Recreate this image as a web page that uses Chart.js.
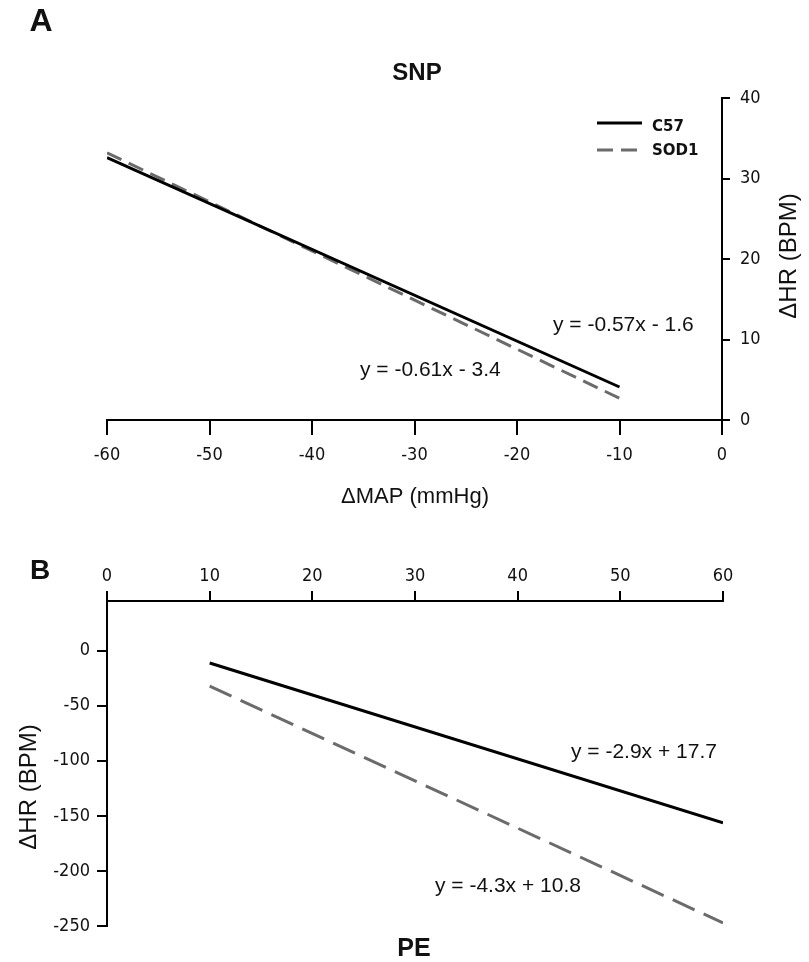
<!DOCTYPE html>
<html>
<head>
<meta charset="utf-8">
<script src="https://cdn.jsdelivr.net/npm/chart.js@4.4.0/dist/chart.umd.min.js"></script>
<style>
  body { margin: 0; background: #fff; }
  canvas { display: block; }
  #wrapA { position: absolute; left: 0; top: 0; }
  #wrapB { position: absolute; left: 0; top: 530px; }
</style>
</head>
<body>
<div id="wrapA"><canvas id="chartA" width="809" height="530"></canvas></div>
<div id="wrapB"><canvas id="chartB" width="809" height="432"></canvas></div>
<script>
// panel A - SNP
const snpX = [-60, -10];
const snpC57 = [32.6, 4.1];
const snpSOD1 = [33.2, 2.7];
const snpXTicks = [-60, -50, -40, -30, -20, -10, 0];
const snpYTicks = [0, 10, 20, 30, 40];
const snpEquations = ["y = -0.57x - 1.6", "y = -0.61x - 3.4"];

// panel B - PE
const peX = [10, 60];
const peC57 = [-11.3, -156.3];
const peSOD1 = [-32.2, -247.2];
const peXTicks = [0, 10, 20, 30, 40, 50, 60];
const peYTicks = [0, -50, -100, -150, -200, -250];
const peEquations = ["y = -2.9x + 17.7", "y = -4.3x + 10.8"];

const seriesNames = ["C57", "SOD1"];

const tickFont = { family: "'DejaVu Sans Condensed', 'DejaVu Sans', sans-serif", size: 18 };
const arial = "'Liberation Sans', Arial, sans-serif";
const grey = "#6b6b6b";

function toPoints(xs, ys) {
  return xs.map((x, i) => ({ x: x, y: ys[i] }));
}

function lineSet(label, xs, ys, color, dash) {
  return {
    label: label,
    data: toPoints(xs, ys),
    borderColor: color,
    borderWidth: 3,
    borderDash: dash,
    pointRadius: 0,
    showLine: true,
    fill: false,
    tension: 0,
  };
}

function axis(position, min, max, tickList, tickLength, pad, size) {
  return {
    type: "linear",
    position: position,
    min: min,
    max: max,
    afterBuildTicks: (scale) => { scale.ticks = tickList.map(v => ({ value: v })); },
    afterFit: (scale) => {
      if (scale.isHorizontal()) scale.height = size;
      else scale.width = size;
    },
    grid: { drawOnChartArea: false, color: "#000", lineWidth: 2, tickLength: tickLength },
    border: { color: "#000", width: 2 },
    ticks: { color: "#111", font: tickFont, padding: pad, maxRotation: 0, autoSkip: false },
  };
}

function write(ctx, str, x, y, font, align, baseline, rot) {
  ctx.save();
  ctx.translate(x, y);
  if (rot) ctx.rotate(rot);
  ctx.font = font;
  ctx.textAlign = align;
  ctx.textBaseline = baseline;
  ctx.fillText(str, 0, 0);
  ctx.restore();
}

function drawLegend(ctx, chart, x1, x2, ys, textX, textYs) {
  chart.data.datasets.forEach((ds, i) => {
    ctx.save();
    ctx.strokeStyle = ds.borderColor;
    ctx.lineWidth = ds.borderWidth;
    ctx.setLineDash(ds.borderDash || []);
    ctx.beginPath();
    ctx.moveTo(x1, ys[i]);
    ctx.lineTo(x2, ys[i]);
    ctx.stroke();
    ctx.restore();
    write(ctx, ds.label, textX, textYs[i], "bold 15px 'DejaVu Sans', sans-serif", "left", "middle");
  });
}

const snpText = {
  id: "snpText",
  afterDraw(chart) {
    const ctx = chart.ctx;
    ctx.save();
    ctx.fillStyle = "#111";
    write(ctx, "A", 41, 22, "bold 32px " + arial, "center", "middle");
    write(ctx, "SNP", 417, 73, "bold 24px " + arial, "center", "middle");
    write(ctx, "ΔMAP (mmHg)", 415, 497, "22px " + arial, "center", "middle");
    write(ctx, "ΔHR (BPM)", 789, 256, "24px " + arial, "center", "middle", -Math.PI / 2);
    write(ctx, snpEquations[0], 553, 331, "21px " + arial, "left", "alphabetic");
    write(ctx, snpEquations[1], 360, 376, "21px " + arial, "left", "alphabetic");
    drawLegend(ctx, chart, 597, 642, [123, 150], 652, [127, 151]);
    ctx.restore();
  },
};

const peText = {
  id: "peText",
  afterDraw(chart) {
    const ctx = chart.ctx;
    ctx.save();
    ctx.fillStyle = "#111";
    write(ctx, "B", 40, 41, "bold 28px " + arial, "center", "middle");
    write(ctx, "ΔHR (BPM)", 29, 257, "24px " + arial, "center", "middle", -Math.PI / 2);
    write(ctx, "PE", 414, 419, "bold 25px " + arial, "center", "middle");
    write(ctx, peEquations[0], 571, 228, "21px " + arial, "left", "alphabetic");
    write(ctx, peEquations[1], 435, 362, "21px " + arial, "left", "alphabetic");
    ctx.restore();
  },
};

new Chart(document.getElementById("chartA"), {
  type: "scatter",
  data: {
    datasets: [
      lineSet(seriesNames[0], snpX, snpC57, "#000", []),
      lineSet(seriesNames[1], snpX, snpSOD1, grey, [16, 8]),
    ],
  },
  options: {
    responsive: false,
    animation: false,
    layout: { padding: { left: 107, top: 98, right: 0, bottom: 0 } },
    plugins: { legend: { display: false }, tooltip: { enabled: false } },
    scales: {
      x: axis("bottom", -60, 0, snpXTicks, 15, 10, 110),
      y: axis("right", 0, 40, snpYTicks, 8, 10, 87),
    },
  },
  plugins: [snpText],
});

new Chart(document.getElementById("chartB"), {
  type: "scatter",
  data: {
    datasets: [
      lineSet(seriesNames[0], peX, peC57, "#000", []),
      lineSet(seriesNames[1], peX, peSOD1, grey, [24, 10]),
    ],
  },
  options: {
    responsive: false,
    animation: false,
    layout: { padding: { left: 0, top: 0, right: 86, bottom: 36 } },
    plugins: { legend: { display: false }, tooltip: { enabled: false } },
    scales: {
      x: axis("top", 0, 60, peXTicks, 10, 4, 71),
      y: axis("left", -250, 45, peYTicks, 10, 7, 107),
    },
  },
  plugins: [peText],
});
</script>
</body>
</html>
